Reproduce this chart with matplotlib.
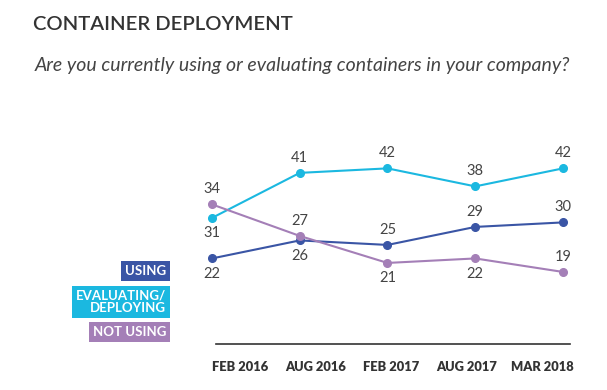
import matplotlib
matplotlib.use("Agg")
import matplotlib.pyplot as plt

plt.rcParams['font.family'] = ['Lato', 'DejaVu Sans']

# data
periods = ['FEB 2016', 'AUG 2016', 'FEB 2017', 'AUG 2017', 'MAR 2018']
using = [22, 26, 25, 29, 30]
evaluating = [31, 41, 42, 38, 42]
not_using = [34, 27, 21, 22, 19]

# label placement: +1 above point, -1 below
using_pos = [-1, -1, 1, 1, 1]
evaluating_pos = [-1, 1, 1, 1, 1]
not_using_pos = [1, 1, -1, -1, 1]

c_using = '#3a55a5'
c_eval = '#1bb8e0'
c_not = '#a47fb7'

fig = plt.figure(figsize=(6.07, 3.90), dpi=100)
W, H = 607, 390

# axes placed in pixel terms
left, right, bottom, top = 200, 580, 344, 140
ax = fig.add_axes([left / W, (H - bottom) / H, (right - left) / W, (bottom - top) / H])
ax.set_xlim(-12 / 87.75, 4 + 17 / 87.75)
ax.set_ylim(3, 48.3)

x = list(range(len(periods)))
series = [(evaluating, evaluating_pos, c_eval),
          (using, using_pos, c_using),
          (not_using, not_using_pos, c_not)]
for vals, pos, col in series:
    ax.plot(x, vals, color=col, lw=1.5, marker='o', ms=5.5, zorder=3)
    for xi, v, p in zip(x, vals, pos):
        ax.annotate(str(v), (xi, v), xytext=(0, 11 * p), textcoords='offset points',
                    ha='center', va='center', fontsize=10.5, color='#444444')

for s in ['top', 'right', 'left']:
    ax.spines[s].set_visible(False)
ax.spines['bottom'].set_color('#333333')
ax.spines['bottom'].set_linewidth(1.2)
ax.spines['bottom'].set_bounds(0.046, 4.08)
ax.set_yticks([])
# category labels sit evenly under the axis, offset from the points
ax.set_xticks([0.319 + i * 0.861 for i in x])
ax.set_xticklabels(periods, fontsize=9.3, fontweight='heavy', color='#333333')
ax.tick_params(axis='x', length=0, pad=12)

fig.text(33 / W, 1 - 25 / H, 'CONTAINER DEPLOYMENT', fontsize=14.6, color='#333333',
         ha='left', va='center', fontweight='semibold')
fig.text(35 / W, 1 - 66 / H, 'Are you currently using or evaluating containers in your company?',
         fontsize=14, color='#444444', ha='left', va='center', style='italic')

legend_items = [('USING', c_using, 271), ('EVALUATING/\nDEPLOYING', c_eval, 302), ('NOT USING', c_not, 332)]
for txt, col, yc in legend_items:
    fig.text(166 / W, 1 - yc / H, txt, fontsize=9.5, fontweight='bold', color='white',
             ha='right', va='center', multialignment='right', linespacing=1.05,
             bbox=dict(boxstyle='square,pad=0.3', fc=col, ec='none'))

fig.savefig('out.png', dpi=100)
